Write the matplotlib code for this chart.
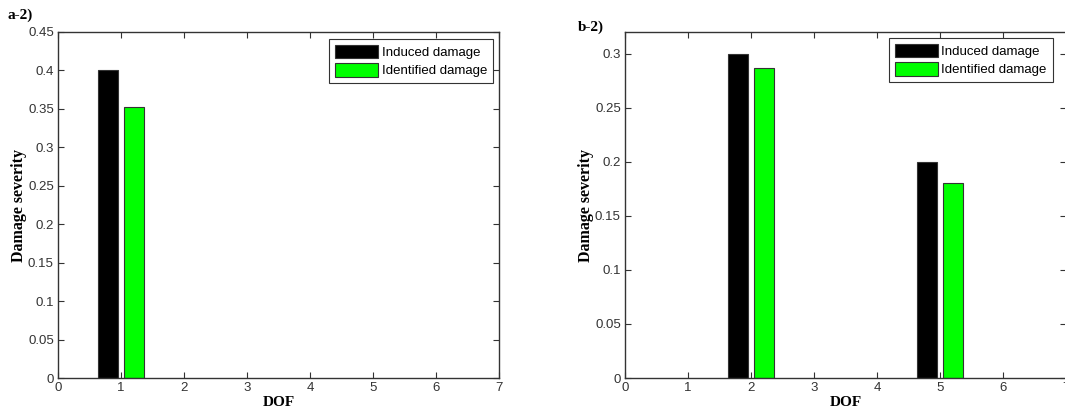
import matplotlib
matplotlib.use("Agg")
import matplotlib.pyplot as plt
import numpy as np

# Damage identification results per degree of freedom
dof_a = [1]
induced_a = [0.40]
identified_a = [0.352]

dof_b = [2, 5]
induced_b = [0.30, 0.20]
identified_b = [0.287, 0.18]

xticks = [0, 1, 2, 3, 4, 5, 6, 7]
yticks_a = [0, 0.05, 0.1, 0.15, 0.2, 0.25, 0.3, 0.35, 0.4, 0.45]
yticks_b = [0, 0.05, 0.1, 0.15, 0.2, 0.25, 0.3]

series_labels = ["Induced damage", "Identified damage"]
panel_titles = ["a-2)", "b-2)"]

plt.rcParams["font.family"] = ["Liberation Sans", "DejaVu Sans"]

fig = plt.figure(figsize=(10.65, 4.19), dpi=100)
W, H = 1065, 419


def px_axes(x0, x1, y0, y1):
    return fig.add_axes([x0 / W, 1 - y1 / H, (x1 - x0) / W, (y1 - y0) / H])


ax_a = px_axes(58, 499, 32, 378)
ax_b = px_axes(625, 1066, 32, 378)

bar_w = 0.32
offset = 0.2


def draw(ax, dof, induced, identified, yticks, ylim, leg_anchor):
    dof = np.asarray(dof, dtype=float)
    ax.bar(dof - offset, induced, bar_w, color="black",
           edgecolor="#333333", linewidth=0.8, label=series_labels[0])
    ax.bar(dof + offset, identified, bar_w, color="#00ff00",
           edgecolor="#333333", linewidth=0.8, label=series_labels[1])
    ax.set_xlim(0, 7)
    ax.set_ylim(*ylim)
    ax.set_xticks(xticks)
    ax.set_xticklabels([str(t) for t in xticks])
    ax.set_yticks(yticks)
    ax.set_yticklabels(["0"] + [f"{t:g}" for t in yticks[1:]])
    ax.tick_params(direction="in", length=4, width=0.8, top=True, right=True,
                   labelsize=9.5, labelcolor="#333333", color="#333333", pad=3)
    for s in ax.spines.values():
        s.set_linewidth(1.0)
        s.set_color("#333333")
    ax.set_xlabel("DOF", family="Liberation Serif", fontweight="bold",
                  fontsize=11, labelpad=1)
    ax.set_ylabel("Damage severity", family="Liberation Serif",
                  fontweight="bold", fontsize=11.5, labelpad=1)
    leg = ax.legend(loc="upper right", bbox_to_anchor=leg_anchor,
                    borderaxespad=0, fontsize=9.5, handlelength=3.3,
                    handleheight=1.2, handletextpad=0.25, labelspacing=0.3,
                    borderpad=0.45, fancybox=False, framealpha=1,
                    edgecolor="#333333")
    leg.get_frame().set_linewidth(0.8)


draw(ax_a, dof_a, induced_a, identified_a, yticks_a, (0, 0.45),
     (0.986, 0.980))
draw(ax_b, dof_b, induced_b, identified_b, yticks_b, (0, 0.32),
     (0.970, 0.983))

fig.text(7 / W, 1 - 15 / H, panel_titles[0], family="Liberation Serif",
         fontweight="bold", fontsize=11, va="center", ha="left")
fig.text(578 / W, 1 - 27 / H, panel_titles[1], family="Liberation Serif",
         fontweight="bold", fontsize=11, va="center", ha="left")

fig.savefig("out.png", dpi=100)
